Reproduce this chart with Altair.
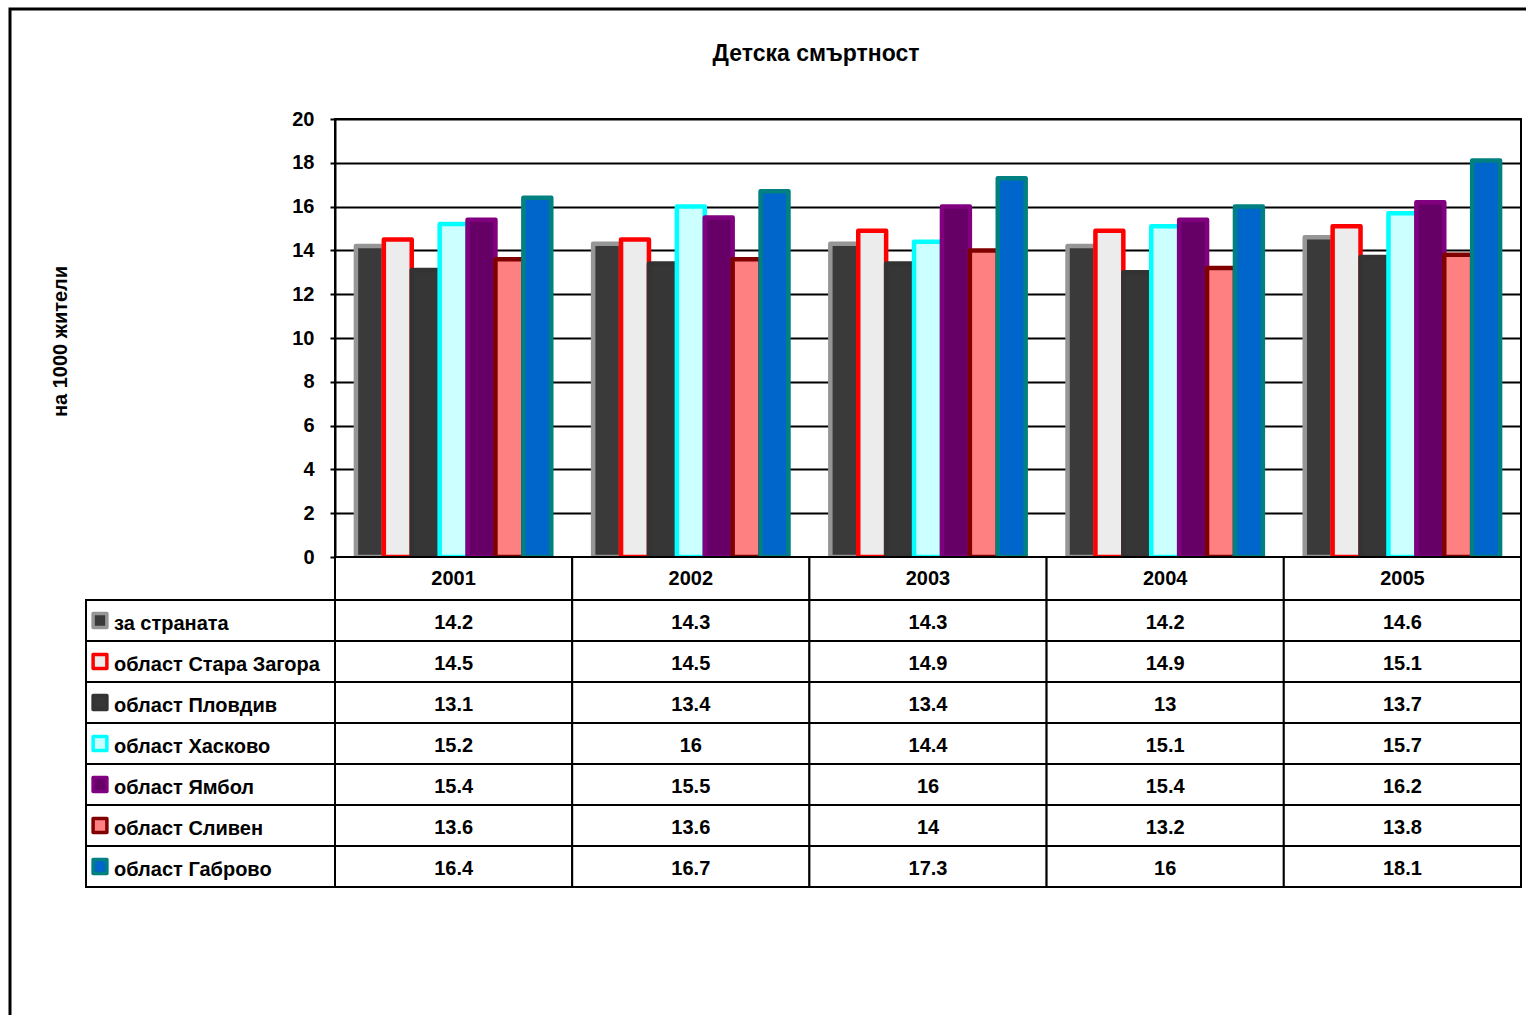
import altair as alt
import pandas as pd

# --- data -------------------------------------------------------------
years = ["2001", "2002", "2003", "2004", "2005"]
series = [
    "за страната",
    "област Стара Загора",
    "област Пловдив",
    "област Хасково",
    "област Ямбол",
    "област Сливен",
    "област Габрово",
]
v_country = [14.2, 14.3, 14.3, 14.2, 14.6]
v_stara_zagora = [14.5, 14.5, 14.9, 14.9, 15.1]
v_plovdiv = [13.1, 13.4, 13.4, 13.0, 13.7]
v_haskovo = [15.2, 16.0, 14.4, 15.1, 15.7]
v_yambol = [15.4, 15.5, 16.0, 15.4, 16.2]
v_sliven = [13.6, 13.6, 14.0, 13.2, 13.8]
v_gabrovo = [16.4, 16.7, 17.3, 16.0, 18.1]
y_ticks = [0, 2, 4, 6, 8, 10, 12, 14, 16, 18, 20]

title_text = "Детска смъртност"
y_title = "на 1000 жители"

fills = ["#3a3a3a", "#ececec", "#363636", "#ccffff", "#660066", "#ff8080", "#0066cc"]
strokes = ["#969696", "#ff0000", "#333333", "#00ffff", "#800080", "#800000", "#008080"]

FONT = "Liberation Sans, Arial, Helvetica, sans-serif"

# --- table ------------------------------------------------------------
all_values = [v_country, v_stara_zagora, v_plovdiv, v_haskovo, v_yambol, v_sliven, v_gabrovo]
rows = []
for s, vals in zip(series, all_values):
    for y, v in zip(years, vals):
        rows.append({"series": s, "year": y, "value": v, "label": f"{v:g}"})
df = pd.DataFrame(rows)
df_series = pd.DataFrame({"series": series})
df_years = pd.DataFrame({"year": years})
df_title = pd.DataFrame({"t": [title_text]})

W, H = 1186, 438

x_year = alt.X("year:N", sort=years, scale=alt.Scale(paddingInner=0, paddingOuter=0), axis=None)
fill_enc = alt.Fill("series:N", scale=alt.Scale(domain=series, range=fills), legend=None)
stroke_enc = alt.Stroke("series:N", scale=alt.Scale(domain=series, range=strokes), legend=None)


def row_y():
    return alt.Y("series:N", sort=series,
                 scale=alt.Scale(domain=series, range=[H + 43, H + 43 + 41 * 7],
                                 paddingInner=0, paddingOuter=0),
                 axis=None)


bars = alt.Chart(df).mark_bar(strokeWidth=4.5, strokeJoin="round").encode(
    x=x_year,
    xOffset=alt.XOffset("series:N", sort=series,
                        scale=alt.Scale(paddingInner=0, paddingOuter=0.75)),
    y=alt.Y("value:Q", scale=alt.Scale(domain=[0, 20], nice=False, zero=True),
            axis=alt.Axis(values=y_ticks, title=y_title, grid=True,
                          gridColor="black", gridWidth=2, gridOpacity=1,
                          domainColor="black", domainWidth=2,
                          tickColor="black", tickWidth=2, tickSize=5,
                          labelFont=FONT, labelFontSize=20, labelFontWeight="bold",
                          labelColor="black", labelPadding=16,
                          titleFont=FONT, titleFontSize=20, titleFontWeight="bold",
                          titleColor="black", titleX=-275, titleY=222,
                          titleAngle=270, titleAlign="center", titleBaseline="middle")),
    fill=fill_enc,
    stroke=stroke_enc,
)

# table cells under the columns
cells = alt.Chart(df).mark_rect(fill="white", stroke="black", strokeWidth=2).encode(
    x=x_year, y=row_y()
)
cell_text = alt.Chart(df).mark_text(font=FONT, fontSize=20, fontWeight="bold",
                                    color="black", baseline="middle", dy=2).encode(
    x=x_year, y=row_y(), text="label:N"
)

# header row with the years
header = alt.Chart(df_years).mark_rect(fill="white", stroke="black", strokeWidth=2).encode(
    x=x_year, y=alt.value(H), y2=alt.value(H + 43)
)
header_text = alt.Chart(df_years).mark_text(font=FONT, fontSize=20, fontWeight="bold",
                                            color="black", baseline="middle").encode(
    x=x_year, y=alt.value(H + 22), text="year:N"
)

# legend column of the table
label_cells = alt.Chart(df_series).mark_rect(fill="white", stroke="black", strokeWidth=2).encode(
    x=alt.value(-249), x2=alt.value(0), y=row_y()
)
swatches = alt.Chart(df_series).mark_square(size=190, opacity=1, strokeWidth=3.5,
                                            strokeJoin="round").encode(
    x=alt.value(-235), y=row_y(), fill=fill_enc, stroke=stroke_enc
)
label_text = alt.Chart(df_series).mark_text(font=FONT, fontSize=20, fontWeight="bold",
                                            color="black", align="left",
                                            baseline="middle", dy=3).encode(
    x=alt.value(-221), y=row_y(), text="series:N"
)

title = alt.Chart(df_title).mark_text(font=FONT, fontSize=23, fontWeight="bold",
                                      color="black", baseline="middle").encode(
    x=alt.value(481), y=alt.value(-65), text="t:N"
)

frame = alt.Chart(df_title).mark_rect(fill=None, stroke="black", strokeWidth=3).encode(
    x=alt.value(-325), x2=alt.value(1300), y=alt.value(-110), y2=alt.value(1000)
)

chart = alt.layer(
    frame, bars, header, header_text, cells, cell_text,
    label_cells, swatches, label_text, title
).resolve_scale(y="independent").properties(
    width=W, height=H,
    autosize=alt.AutoSizeParams(type="none"),
    padding={"left": 335, "top": 119, "right": 5, "bottom": 458},
    background="white",
).configure_view(stroke="black", strokeWidth=2)

chart.save("out.html", embed_options={"renderer": "svg", "actions": False})
